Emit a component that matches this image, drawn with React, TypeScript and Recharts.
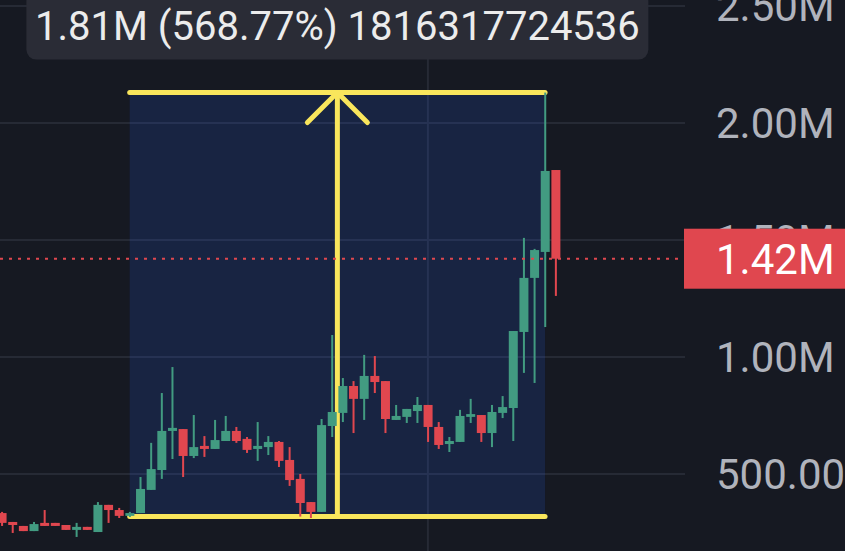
import { ComposedChart, Bar, XAxis, YAxis, CartesianGrid, ReferenceLine, ReferenceArea } from "recharts";

// candles, values in K
const openK = [333, 295, 278, 256, 291, 291, 282, 261, 274, 252, 368, 346, 321, 333, 432, 517, 684, 692, 577, 620, 607, 641, 684, 650, 607, 615, 637, 560, 479, 380, 338, 705, 761, 876, 821, 919, 897, 731, 744, 769, 795, 701, 628, 637, 744, 752, 675, 761, 782, 1107, 1338, 1449, 1799];
const highK = [338, 295, 278, 295, 346, 291, 282, 291, 274, 380, 368, 355, 338, 487, 633, 846, 957, 692, 752, 662, 731, 748, 701, 658, 722, 662, 641, 615, 500, 380, 735, 1094, 910, 897, 1009, 1004, 897, 795, 778, 829, 795, 722, 658, 774, 821, 752, 795, 833, 1111, 1509, 1462, 2130, 1799];
const lowK = [278, 248, 256, 256, 278, 278, 261, 231, 261, 252, 291, 312, 316, 333, 432, 479, 564, 487, 568, 573, 607, 641, 633, 590, 556, 581, 530, 449, 318, 312, 338, 658, 722, 675, 731, 846, 675, 731, 718, 718, 637, 607, 594, 637, 718, 637, 615, 739, 641, 932, 889, 1128, 1261];
const closeK = [291, 282, 256, 286, 278, 278, 261, 274, 261, 368, 346, 321, 333, 436, 521, 684, 697, 577, 615, 607, 645, 684, 641, 603, 620, 637, 556, 474, 376, 338, 709, 765, 876, 821, 919, 893, 735, 748, 778, 795, 701, 624, 641, 748, 756, 675, 765, 786, 1111, 1338, 1457, 1795, 1420];

const yTicks = [500000, 1000000, 1500000, 2000000, 2500000];
const xTicks = [40];
const lastPrice = 1420000;
const yDomain = [170900, 2525600];

// measure tool
const measureFrom = 12;
const measureTo = 51;
const measureHigh = 2130000;
const measureLow = 318500;
const measureText = "1.81M (568.77%) 1816317724536";

const GREEN = "#429b81";
const RED = "#e0474f";
const YELLOW = "#f9e65c";
const BG = "#161922";
const GRID = "#262a35";
const FONT = "Roboto, sans-serif";

const rows = openK.map((o, i) => ({
  i,
  open: o * 1000,
  high: highK[i] * 1000,
  low: lowK[i] * 1000,
  close: closeK[i] * 1000,
  range: [lowK[i] * 1000, highK[i] * 1000],
}));

const fmt = (v: number) => (v >= 1000000 ? (v / 1000000).toFixed(2) + "M" : (v / 1000).toFixed(2) + "K");

function Candle(props: any) {
  const { x, y, width, height, payload } = props;
  const top = Math.min(y, y + height);
  const h = Math.abs(height);
  const { open, close, high, low } = payload;
  const ppu = h / (high - low);
  const bodyTop = top + (high - Math.max(open, close)) * ppu;
  const bodyH = Math.max(2, Math.abs(open - close) * ppu);
  const color = close >= open ? GREEN : RED;
  const cx = x + width / 2;
  return (
    <g>
      <rect x={cx - 1} y={top} width={2} height={h} fill={color} />
      <rect x={x} y={bodyTop} width={width} height={bodyH} fill={color} />
    </g>
  );
}

// last price tick comes last in the list so its badge sits on top of 1.50M
function PriceTick(props: any) {
  const { x, y, payload } = props;
  if (payload.value === lastPrice) {
    return (
      <g>
        <rect x={x - 32} y={y - 30} width={170} height={60} fill={RED} />
        <text x={x} y={y} dy={15} fill="#ffffff" fontSize={42} fontFamily={FONT}>
          {fmt(payload.value)}
        </text>
      </g>
    );
  }
  return (
    <text x={x} y={y} dy={15} textAnchor="start" fill="#b0b3bc" fontSize={42} fontFamily={FONT}>
      {fmt(payload.value)}
    </text>
  );
}

function MeasureOverlay(props: any) {
  const { x, y, width, height } = props;
  const cx = x + width / 2;
  return (
    <g>
      <line x1={x} y1={y} x2={x + width} y2={y} stroke={YELLOW} strokeWidth={5} strokeLinecap="round" />
      <line x1={x} y1={y + height} x2={x + width} y2={y + height} stroke={YELLOW} strokeWidth={5} strokeLinecap="round" />
      <line x1={cx} y1={y} x2={cx} y2={y + height} stroke={YELLOW} strokeWidth={5} strokeLinecap="round" />
      <polyline points={`${cx - 30},${y + 30} ${cx},${y} ${cx + 30},${y + 30}`} fill="none" stroke={YELLOW} strokeWidth={5} strokeLinecap="round" strokeLinejoin="round" />
      <rect x={cx - 311} y={y - 101} width={622} height={68} rx={10} fill="#2a2c36" />
      <text x={cx} y={y - 53} textAnchor="middle" fill="#ececec" fontSize={40} fontFamily={FONT}>
        {measureText}
      </text>
    </g>
  );
}

function PriceLine(props: any) {
  const left = Math.min(props.x1, props.x2);
  const right = Math.max(props.x1, props.x2);
  return <line x1={left} y1={props.y1} x2={right} y2={props.y1} stroke={RED} strokeWidth={2} strokeDasharray="3 6" />;
}

export default function App() {
  return (
    <div style={{ position: "absolute", left: 0, top: 0, width: 845, height: 551, background: BG, overflow: "hidden" }}>
      <ComposedChart width={845} height={551} data={rows} margin={{ top: 0, right: 0, bottom: 0, left: 0 }}>
        <CartesianGrid stroke={GRID} strokeWidth={2} verticalValues={xTicks} horizontalValues={yTicks} />
        <XAxis dataKey="i" type="number" domain={[-0.178, 64.14]} ticks={xTicks} hide allowDataOverflow />
        <YAxis
          orientation="right"
          width={160}
          domain={yDomain}
          ticks={[...yTicks, lastPrice]}
          interval={0}
          axisLine={false}
          tickLine={false}
          tickSize={0}
          tickMargin={31}
          tick={<PriceTick />}
          allowDataOverflow
        />
        <ReferenceArea x1={measureFrom} x2={measureTo} y1={measureLow} y2={measureHigh} fill="#2962ff" fillOpacity={0.15} stroke="none" />
        <Bar dataKey="range" barSize={9} shape={<Candle />} isAnimationActive={false} />
        <ReferenceArea x1={measureFrom} x2={measureTo} y1={measureLow} y2={measureHigh} shape={<MeasureOverlay />} />
        <ReferenceLine y={lastPrice} shape={<PriceLine />} />
      </ComposedChart>
    </div>
  );
}
